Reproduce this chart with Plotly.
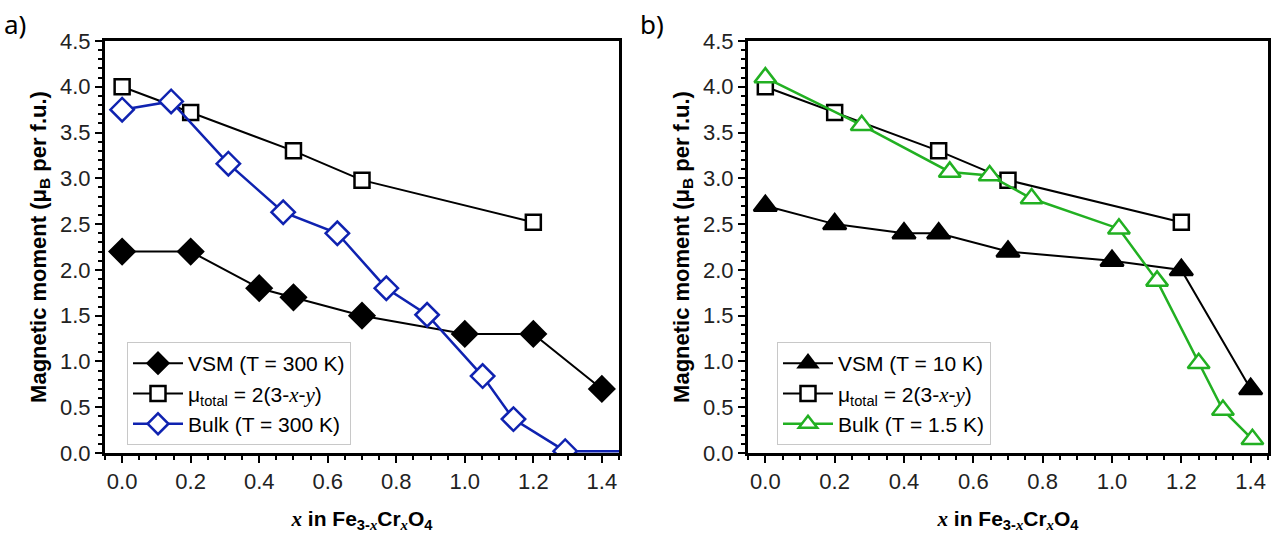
import plotly.graph_objects as go

# ---------------- data ----------------
# panel a (T = 300 K)
vsm_a_x = [0.0, 0.2, 0.4, 0.5, 0.7, 1.0, 1.2, 1.4]
vsm_a_y = [2.2, 2.2, 1.8, 1.7, 1.5, 1.3, 1.3, 0.7]

mu_x = [0.0, 0.2, 0.5, 0.7, 1.2]
mu_y = [4.0, 3.72, 3.3, 2.98, 2.52]

bulk_a_x = [0.0, 0.143, 0.31, 0.47, 0.628, 0.771, 0.89, 1.052, 1.142, 1.293, 1.5]
bulk_a_y = [3.75, 3.84, 3.16, 2.63, 2.40, 1.80, 1.51, 0.84, 0.37, 0.02, 0.02]

# panel b (low T)
vsm_b_x = [0.0, 0.2, 0.4, 0.5, 0.7, 1.0, 1.2, 1.4]
vsm_b_y = [2.7, 2.5, 2.4, 2.4, 2.2, 2.1, 2.0, 0.7]

bulk_b_x = [0.0, 0.278, 0.532, 0.647, 0.768, 1.02, 1.13, 1.25, 1.32, 1.405]
bulk_b_y = [4.1, 3.58, 3.07, 3.03, 2.78, 2.45, 1.88, 0.98, 0.47, 0.15]

x_ticks = [0.0, 0.2, 0.4, 0.6, 0.8, 1.0, 1.2, 1.4]
y_ticks = [0.0, 0.5, 1.0, 1.5, 2.0, 2.5, 3.0, 3.5, 4.0, 4.5]

# ---------------- styles ----------------
W, H = 1271, 542
FONT = "Liberation Sans"
SERIF = "Liberation Serif"
BLUE = "#0f22b0"
GREEN = "#22b022"

mu_label = ("μ<sub>total</sub> = 2(3-<span style='font-family:%s'><i>x</i></span>-"
            "<span style='font-family:%s'><i>y</i></span>)" % (SERIF, SERIF))

fig = go.Figure()

def add(x, y, name, color, symbol, fill, size, lw, xa, ya, leg, grp):
    fig.add_trace(go.Scatter(
        x=x, y=y, name=name, mode="lines+markers",
        line=dict(color=color, width=lw),
        marker=dict(symbol=symbol, size=size, color=fill,
                    line=dict(color=color, width=2.5)),
        xaxis=xa, yaxis=ya, legend=leg, legendgroup=grp,
    ))

add(vsm_a_x, vsm_a_y, "VSM (T = 300 K)", "black", "diamond", "black", 19, 2, "x", "y", "legend", "a1")
add(mu_x, mu_y, mu_label, "black", "square", "white", 15, 2, "x", "y", "legend", "a2")
add(bulk_a_x, bulk_a_y, "Bulk (T = 300 K)", BLUE, "diamond", "white", 18, 2.5, "x", "y", "legend", "a3")

add(vsm_b_x, vsm_b_y, "VSM (T = 10 K)", "black", "triangle-up", "black", 20, 2, "x2", "y2", "legend2", "b1")
add(mu_x, mu_y, mu_label, "black", "square", "white", 15, 2, "x2", "y2", "legend2", "b2")
add(bulk_b_x, bulk_b_y, "Bulk (T = 1.5 K)", GREEN, "triangle-up", "white", 19, 2.5, "x2", "y2", "legend2", "b3")

xdomA = [105 / W, 619 / W]
xdomB = [748 / W, 1268 / W]
ydom = [1 - 453 / H, 1 - 41 / H]

xtitle = ("<b><span style='font-family:%s'><i>x</i></span> in Fe<sub>3-"
          "<span style='font-family:%s'><i>x</i></span></sub>Cr<sub>"
          "<span style='font-family:%s'><i>x</i></span></sub>O<sub>4</sub></b>" % (SERIF, SERIF, SERIF))
ytitle = "<b>Magnetic moment (μ<sub>B</sub> per f.u.)</b>"

def xaxis(dom, anchor):
    return dict(domain=dom, anchor=anchor, range=[-0.05, 1.45], automargin=False,
                tickvals=x_ticks, ticktext=["%.1f" % v for v in x_ticks],
                ticks="outside", ticklen=7, tickwidth=2, tickcolor="black",
                minor=dict(dtick=0.05, tick0=0, ticks="outside", ticklen=4, tickwidth=2, tickcolor="black"),
                showline=True, linewidth=3, linecolor="black", mirror=True,
                showgrid=False, zeroline=False,
                tickfont=dict(family=FONT, size=22, color="#222"),
                title=dict(text=xtitle, font=dict(family=FONT, size=21, color="black"), standoff=18))

def yaxis(anchor):
    return dict(domain=ydom, anchor=anchor, range=[0, 4.5], automargin=False,
                tickvals=y_ticks, ticktext=["%.1f" % v for v in y_ticks],
                ticks="outside", ticklen=7, tickwidth=2, tickcolor="black",
                minor=dict(dtick=0.1, tick0=0, ticks="outside", ticklen=4, tickwidth=2, tickcolor="black"),
                showline=True, linewidth=3, linecolor="black", mirror=True,
                showgrid=False, zeroline=False,
                tickfont=dict(family=FONT, size=22, color="#222"),
                title=dict(text=ytitle, font=dict(family=FONT, size=22, color="black"), standoff=8))

def legend(xpx):
    return dict(x=xpx / W, y=1 - 342 / H, xanchor="left", yanchor="top",
                bgcolor="rgba(255,255,255,0.9)", bordercolor="#c8c8c8", borderwidth=1,
                font=dict(family=FONT, size=21, color="black"),
                tracegroupgap=7, itemwidth=50, traceorder="normal")

fig.update_layout(
    width=W, height=H, margin=dict(l=0, r=0, t=0, b=0, pad=0, autoexpand=False),
    paper_bgcolor="white", plot_bgcolor="white",
    xaxis=xaxis(xdomA, "y"), yaxis=yaxis("x"),
    xaxis2=xaxis(xdomB, "y2"), yaxis2=yaxis("x2"),
    legend=legend(127), legend2=legend(777),
    annotations=[
        dict(text="a)", x=2 / W, y=1 - 4 / H, xref="paper", yref="paper", xanchor="left", yanchor="top",
             showarrow=False, font=dict(family="Noto Sans", size=26, color="black")),
        dict(text="b)", x=638 / W, y=1 - 4 / H, xref="paper", yref="paper", xanchor="left", yanchor="top",
             showarrow=False, font=dict(family="Noto Sans", size=26, color="black")),
    ],
)

fig.write_html("out.html", config={"displayModeBar": False},
               post_script="document.body.style.margin='0';document.body.style.overflow='hidden';")
